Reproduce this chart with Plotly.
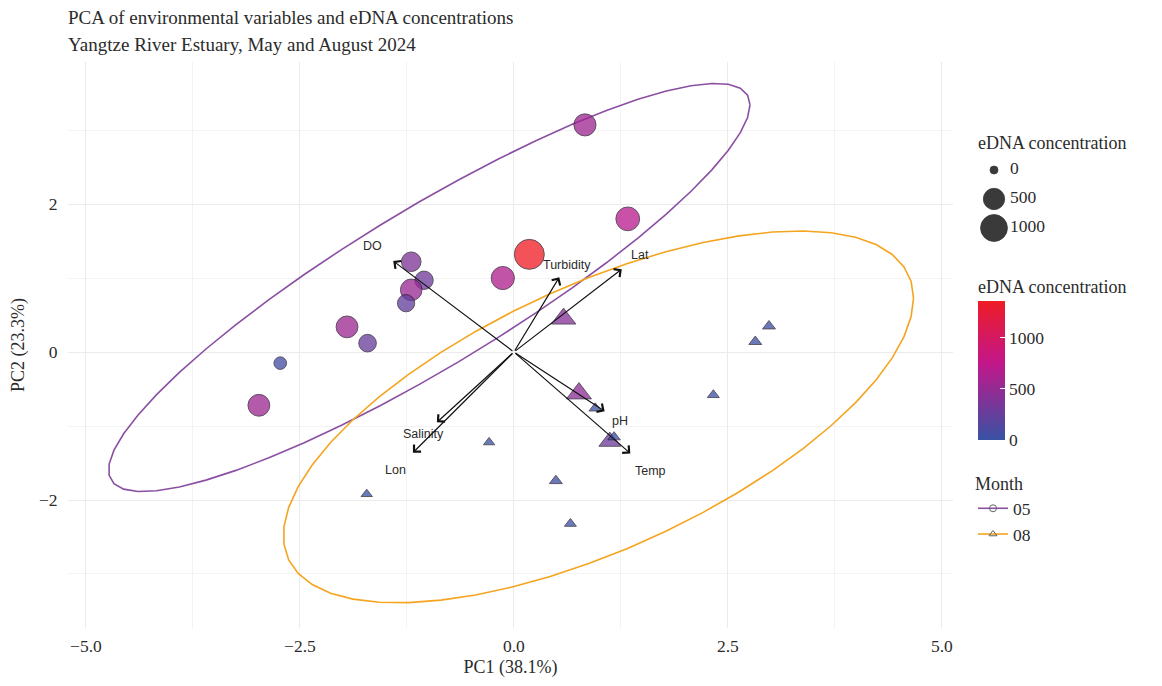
import numpy as np
import plotly.graph_objects as go

# ---------------- data ----------------
may_pc1 = [0.83, 1.33, 0.18, -0.13, -1.20, -1.05, -1.20, -1.26, -1.95, -1.71, -2.73, -2.98]
may_pc2 = [3.07, 1.80, 1.32, 1.00, 1.22, 0.97, 0.84, 0.66, 0.34, 0.12, -0.15, -0.72]
may_edna = [560, 700, 1360, 650, 380, 300, 520, 240, 540, 260, 60, 540]

aug_pc1 = [0.58, 2.82, 2.98, 2.33, 0.76, 0.95, 1.12, 1.17, 0.49, 0.66, -0.29, -1.72]
aug_pc2 = [0.45, 0.14, 0.35, -0.58, -0.56, -0.76, -1.21, -1.15, -1.74, -2.32, -1.22, -1.92]
aug_edna = [420, 20, 20, 10, 450, 15, 280, 15, 20, 10, 5, 5]

var_names = ["DO", "Turbidity", "Lat", "Salinity", "Lon", "pH", "Temp"]
load_pc1 = [-1.41, 0.53, 1.26, -0.90, -1.18, 1.06, 1.36]
load_pc2 = [1.23, 1.01, 1.12, -0.95, -1.36, -0.80, -1.37]
label_mult = 1.17

months = ["05", "08"]
month_colors = {"05": "#8a4fa3", "08": "#f4a41e"}
size_legend_vals = [0, 500, 1000]

title_1 = "PCA of environmental variables and eDNA concentrations"
title_2 = "Yangtze River Estuary, May and August 2024"
x_title = "PC1 (38.1%)"
y_title = "PC2 (23.3%)"

# ---------------- helpers ----------------
all_edna = np.array(may_edna + aug_edna, dtype=float)
VMAX = all_edna.max()
SMIN, SMAX = 8.0, 30.0


def size_of(v):
    v = np.asarray(v, dtype=float)
    return SMIN + (SMAX - SMIN) * np.sqrt(np.clip(v, 0, None) / VMAX)


def stat_ellipse_norm(x, y, level=0.95, segments=51):
    """Same maths as ggplot2::stat_ellipse(type = 'norm')."""
    X = np.column_stack([x, y]).astype(float)
    n = X.shape[0]
    center = X.mean(axis=0)
    shape = np.cov(X.T)
    dfn, dfd = 2, n - 1
    fq = dfd / 2.0 * ((1 - level) ** (-2.0 / dfd) - 1)  # qf(level, 2, dfd)
    radius = np.sqrt(dfn * fq)
    R = np.linalg.cholesky(shape).T
    ang = np.arange(segments + 1) * 2 * np.pi / segments
    circ = np.column_stack([np.cos(ang), np.sin(ang)])
    e = center + radius * (circ @ R)
    return e[:, 0], e[:, 1]


colorscale = [[0.0, "#3852a4"], [0.55, "#c2178b"], [1.0, "#ee1c25"]]
SERIF = "Liberation Serif"
SANS = "Liberation Sans"
TXT = "#2b2b2b"

fig = go.Figure()

# ellipses
for m, (px_, py_) in zip(months, [(may_pc1, may_pc2), (aug_pc1, aug_pc2)]):
    ex, ey = stat_ellipse_norm(px_, py_)
    fig.add_trace(go.Scatter(x=ex, y=ey, mode="lines", showlegend=False, hoverinfo="skip",
                             line=dict(color=month_colors[m], width=1.6)))

# points
fig.add_trace(go.Scatter(
    x=may_pc1, y=may_pc2, mode="markers", showlegend=False,
    marker=dict(symbol="circle", size=size_of(may_edna), color=may_edna, coloraxis="coloraxis",
                opacity=0.76, line=dict(color="#1e1428", width=0.9))))
fig.add_trace(go.Scatter(
    x=aug_pc1, y=aug_pc2, mode="markers", showlegend=False,
    marker=dict(symbol="triangle-up", size=size_of(aug_edna) * 1.05, color=aug_edna,
                coloraxis="coloraxis", opacity=0.76, line=dict(color="#1e1428", width=0.9))))

# loadings arrows and labels
for name, lx, ly in zip(var_names, load_pc1, load_pc2):
    fig.add_annotation(x=lx, y=ly, ax=0, ay=0, xref="x", yref="y", axref="x", ayref="y",
                       text="", showarrow=True, arrowhead=4, arrowwidth=1.2, arrowsize=1.6,
                       arrowcolor="#111111")
    fig.add_annotation(x=lx * label_mult, y=ly * label_mult, xref="x", yref="y", text=name,
                       showarrow=False, font=dict(family=SANS, size=12.5, color=TXT))

# Month legend entries
month_symbols = {"05": "circle-open", "08": "triangle-up-open"}
for m in months:
    fig.add_trace(go.Scatter(x=[None], y=[None], mode="lines+markers", name=m, legend="legend2",
                             legendgroup=m,
                             line=dict(color=month_colors[m], width=1.6),
                             marker=dict(symbol=month_symbols[m], size=7, color="#666666",
                                         line=dict(width=1))))

# size legend drawn on an auxiliary axis
fig.add_trace(go.Scatter(
    x=[0] * len(size_legend_vals), y=list(range(len(size_legend_vals))), mode="markers",
    xaxis="x2", yaxis="y2", showlegend=False, hoverinfo="skip",
    marker=dict(size=size_of(size_legend_vals), color="#3a3a3a", opacity=1,
                line=dict(width=0.8, color="#3a3a3a"))))
fig.add_trace(go.Scatter(
    x=[1] * len(size_legend_vals), y=list(range(len(size_legend_vals))), mode="text",
    text=[str(v) for v in size_legend_vals], textposition="middle right",
    xaxis="x2", yaxis="y2", showlegend=False, hoverinfo="skip",
    textfont=dict(family=SERIF, size=17.5, color=TXT)))

# ---------------- layout ----------------
# The page adds an 8 px body margin, so the figure is drawn 8 px smaller and
# reference pixel positions are shifted by that offset.
OFF = 8
W, H = 1162 - 2 * OFF, 686 - 2 * OFF
L, T = 68 - OFF, 62 - OFF
B = H - (628 - OFF)
R_ = 0
PW, PH = W - L - R_, H - T - B


def px_x(p):
    return (p - OFF - L) / PW


def px_y(p):
    return (H - B - (p - OFF)) / PH


grid_major = "#ebebeb"
grid_minor = "#f3f3f3"

fig.update_layout(
    width=W, height=H, margin=dict(l=L, r=R_, t=T, b=B, autoexpand=False),
    paper_bgcolor="white", plot_bgcolor="white",
    font=dict(family=SERIF, color=TXT),
    xaxis=dict(domain=[0, px_x(953)], range=[-5.21, 5.13], dtick=2.5, tick0=0, tickformat=".1f",
               showgrid=True, gridcolor=grid_major, gridwidth=1.3, zeroline=False,
               showline=False, ticks="outside", ticklen=2, tickcolor="rgba(0,0,0,0)",
               tickfont=dict(family=SERIF, size=17.5, color=TXT),
               minor=dict(dtick=1.25, tick0=0, showgrid=True, gridcolor=grid_minor, gridwidth=1),
               title=dict(text=x_title, font=dict(family=SERIF, size=18, color=TXT), standoff=18)),
    yaxis=dict(domain=[0, 1], range=[-3.73, 3.92], dtick=2, tick0=0,
               showgrid=True, gridcolor=grid_major, gridwidth=1.3, zeroline=False,
               showline=False, ticks="outside", ticklen=6, tickcolor="rgba(0,0,0,0)",
               tickfont=dict(family=SERIF, size=17.5, color=TXT),
               minor=dict(dtick=1, tick0=0, showgrid=True, gridcolor=grid_minor, gridwidth=1),
               title=dict(text=y_title, font=dict(family=SERIF, size=18, color=TXT), standoff=12)),
    xaxis2=dict(domain=[px_x(978), px_x(1080)], range=[-1, 5.375], visible=False, anchor="y2"),
    yaxis2=dict(domain=[px_y(242.5), px_y(155.5)], range=[2.5, -0.5], visible=False, anchor="x2"),
    coloraxis=dict(colorscale=colorscale, cmin=0, cmax=VMAX,
                   colorbar=dict(title=dict(text="eDNA concentration", side="top",
                                            font=dict(family=SERIF, size=18, color=TXT)),
                                 x=px_x(978), xanchor="left", y=px_y(276), yanchor="top",
                                 len=164, lenmode="pixels", thickness=27, xpad=0, ypad=0,
                                 outlinewidth=0, tickvals=[0, 500, 1000],
                                 ticks="inside", ticklen=5, tickcolor="white",
                                 tickfont=dict(family=SERIF, size=17.5, color=TXT))),
    legend2=dict(title=dict(text="Month", font=dict(family=SERIF, size=18, color=TXT)),
                 x=px_x(973), xanchor="left", y=px_y(467), yanchor="top",
                 font=dict(family=SERIF, size=17.5, color=TXT), bgcolor="rgba(0,0,0,0)",
                 itemwidth=30, tracegroupgap=0),
    showlegend=True,
)

fig.add_annotation(x=0, y=px_y(18), xref="paper", yref="paper", xanchor="left", yanchor="middle",
                   xshift=-2, text=title_1, showarrow=False,
                   font=dict(family=SERIF, size=19, color=TXT))
fig.add_annotation(x=0, y=px_y(44), xref="paper", yref="paper", xanchor="left", yanchor="middle",
                   xshift=-2, text=title_2, showarrow=False,
                   font=dict(family=SERIF, size=19, color=TXT))
fig.add_annotation(x=px_x(978), y=px_y(143), xref="paper", yref="paper", xanchor="left",
                   yanchor="middle", xshift=-2, text="eDNA concentration", showarrow=False,
                   font=dict(family=SERIF, size=18, color=TXT))

fig.write_html("out.html")
